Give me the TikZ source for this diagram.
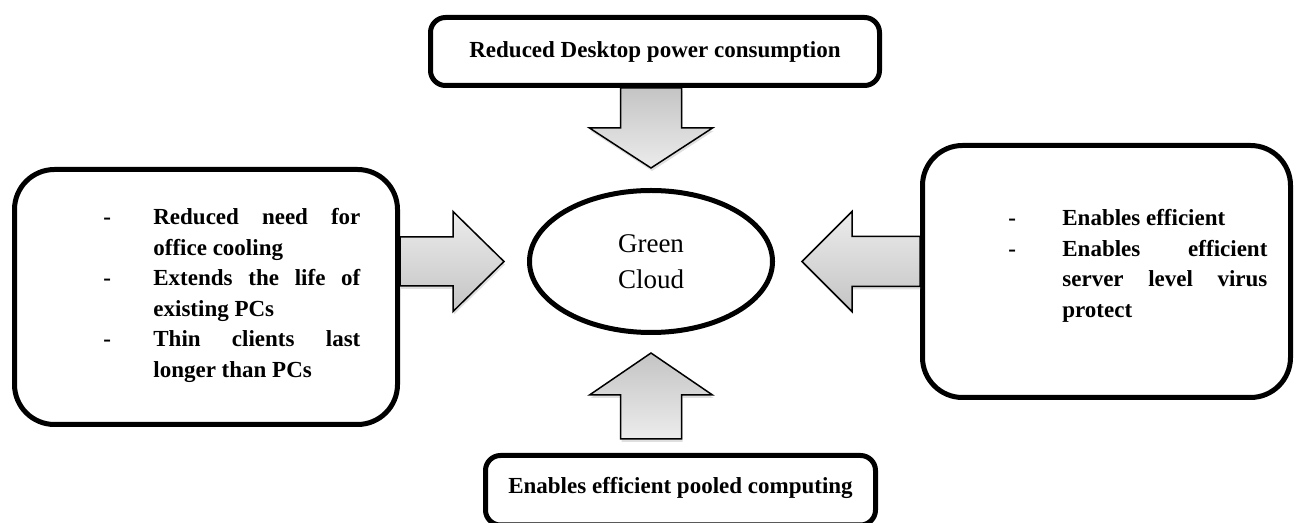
\documentclass[tikz,border=0pt]{standalone}
\usepackage{fontspec}
\setmainfont{Liberation Serif}
\usetikzlibrary{shapes.geometric,shadows}
\definecolor{arrowlight}{RGB}{236,236,236}
\definecolor{arrowdark}{RGB}{196,196,196}
% block arrows: #1 tail, #2 signed length, #3 half shaft, #4 half head, #5 signed head length
\newcommand{\varrow}[5]{\draw[fatarrow,vshade] (#1) ++(-#3,0) -- ++(0,#2-#5) -- ++(#3-#4,0) -- ++(#4,#5) -- ++(#4,-#5) -- ++(#3-#4,0) -- ++(0,-#2+#5) -- cycle;}
\newcommand{\harrow}[5]{\draw[fatarrow,hshade] (#1) ++(0,-#3) -- ++(#2-#5,0) -- ++(0,#3-#4) -- ++(#5,#4) -- ++(-#5,#4) -- ++(0,#3-#4) -- ++(-#2+#5,0) -- cycle;}
% one item of a list: dash, then hanging text
\newcommand{\dashitem}[2][25pt]{\hangindent=#1\hangafter=1\noindent\makebox[#1][l]{-}#2\par}

\begin{document}
\begin{tikzpicture}[x=0.5pt,y=-0.5pt,% one unit is one pixel of the picture, y going down
		every node/.style={
			align=center,	% so that "\\" breaks the line
			inner sep=0pt
		},
		box/.style={rectangle,draw=black,line width=2.5pt,fill=white,
			drop shadow={shadow xshift=0.8pt,shadow yshift=-0.8pt,opacity=0.3}},
		smallbox/.style={box,rounded corners=7.5pt},
		bigbox/.style={box,rounded corners=20pt},
		boxtext/.style={font=\fontsize{11.5pt}{15.25pt}\selectfont\bfseries},
		itemlist/.style={boxtext,align=justify,anchor=north west,
			execute at begin node={\tolerance=10000\hyphenpenalty=10000}},
		fatarrow/.style={draw=black,line width=0.75pt,
			drop shadow={shadow xshift=0.5pt,shadow yshift=-1.5pt,opacity=0.25}},
		vshade/.style={top color=arrowdark,bottom color=arrowlight},
		hshade/.style={top color=arrowlight,bottom color=arrowdark}
	]
	\useasboundingbox (0,0) rectangle (1296,523);
	% boxes round the green cloud
	\node[smallbox,boxtext,minimum width=224.5pt,minimum height=34pt](topbox) at (655,51.5){Reduced Desktop power consumption};
	\node[bigbox,minimum width=191.5pt,minimum height=127.5pt](leftbox) at (206,297){};
	\node[bigbox,minimum width=184pt,minimum height=126pt](rightbox) at (1106.5,271.5){};
	\node[smallbox,boxtext,text depth=5pt,minimum width=195pt,minimum height=34.75pt](bottombox) at (680.5,490.25){Enables efficient pooled computing};
	\node[ellipse,draw=black,line width=2.5pt,minimum width=121.5pt,minimum height=71pt,
		font=\fontsize{13.5pt}{18pt}\selectfont](cloud) at (651,261.5){Green\\Cloud};
	% lists in the side boxes
	\node[itemlist,text width=128.5pt](lefttext) at (103,208.4){%
		\dashitem{Reduced need for\linebreak office cooling}
		\dashitem{Extends the life of\linebreak existing PCs}
		\dashitem{Thin clients last\linebreak longer than PCs}};
	\node[itemlist,text width=129.5pt](righttext) at (1008,209.4){%
		\dashitem[27pt]{Enables efficient}
		\dashitem[27pt]{Enables efficient\linebreak server level virus\linebreak protect}};
	% arrows into the cloud
	\coordinate (downtail) at (cloud.north |- topbox.south);
	\coordinate (uptail) at ([yshift=7pt]cloud.south |- bottombox.north);
	\coordinate (righttail) at (leftbox.east |- cloud.west);
	\coordinate (lefttail) at (rightbox.west |- cloud.east);
	\varrow{downtail}{80}{30.5}{61.5}{40}
	\varrow{uptail}{-86}{30.5}{61.5}{-42}
	\harrow{righttail}{104}{24.5}{50}{51}
	\harrow{lefttail}{-118}{25}{50}{-50}
\end{tikzpicture}
\end{document}
